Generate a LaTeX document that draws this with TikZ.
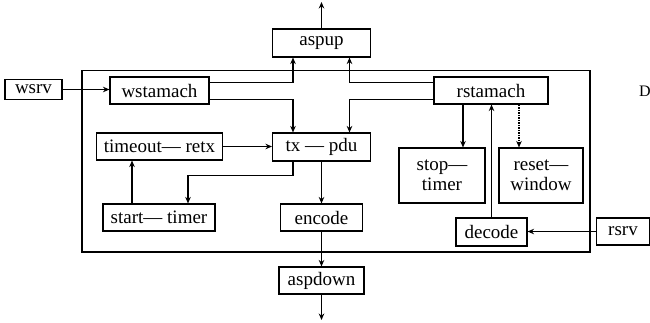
\documentclass[tikz,border=0pt]{standalone}
\usepackage{fontspec}
\setmainfont{Liberation Serif}
\usetikzlibrary{arrows.meta}
\begin{document}
\begin{tikzpicture}[x=1pt,y=-1pt,
  blk/.style={draw, line width=1.1pt, inner sep=0pt, align=center,
    font=\fontsize{19}{20}\selectfont},
  flow/.style={line width=1.1pt, -{Stealth[length=6.5pt,width=5.5pt]}},
  heavy/.style={flow, line width=1.6pt},
  dotflow/.style={flow, dash pattern=on 1.5pt off 1pt}]
\useasboundingbox (0,0) rectangle (650,322);

% enclosing frame of the protocol entity
\draw[line width=1.1pt] (82,70.5) rectangle (590,252);

% blocks
\node[blk, minimum width=57pt, minimum height=20pt] (wsrv) at (33.5,89.5) {wsrv};
\node[blk, minimum width=99pt, minimum height=27pt] (wstamach) at (159.5,90.5) {wstamach};
\node[blk, minimum width=98pt, minimum height=28pt] (aspup) at (321.5,43) {aspup};
\node[blk, minimum width=114pt, minimum height=27pt] (rstamach) at (491,90.5) {rstamach};
\node[blk, minimum width=126pt, minimum height=27pt] (timeout) at (159.5,146.5) {timeout— retx};
\node[blk, minimum width=98pt, minimum height=28pt] (txpdu) at (321.5,147) {tx — pdu};
\node[blk, minimum width=86pt, minimum height=55pt] (stoptimer) at (442,175.5) {stop—\\timer};
\node[blk, minimum width=84pt, minimum height=55pt] (resetwin) at (541,175.5) {reset—\\window};
\node[blk, minimum width=112pt, minimum height=27pt] (starttimer) at (159,217.5) {start— timer};
\node[blk, minimum width=82pt, minimum height=27pt] (encode) at (321.5,217.5) {encode};
\node[blk, minimum width=71pt, minimum height=28pt] (decode) at (491.5,232) {decode};
\node[blk, minimum width=53pt, minimum height=27pt] (rsrv) at (623,231.5) {rsrv};
\node[blk, minimum width=85pt, minimum height=27pt] (aspdown) at (321.5,280.5) {aspdown};
\node[font=\fontsize{16}{17}\selectfont, inner sep=0pt] (dlabel) at (645,91) {D};

% free ends of the outer arrows
\coordinate (outup) at (321.5,2);
\coordinate (outdown) at (321.5,320);

% attachment points on the state machines
\coordinate (ws1) at ([yshift=-6pt]wstamach.north east);
\coordinate (ws2) at ([yshift=5pt]wstamach.south east);
\coordinate (rs1) at ([yshift=-6pt]rstamach.north west);
\coordinate (rs2) at ([yshift=5pt]rstamach.south west);
\coordinate (ap1) at ([xshift=-28.5pt]aspup.south);
\coordinate (ap2) at ([xshift=28pt]aspup.south);
\coordinate (tp1) at ([xshift=-28.5pt]txpdu.north);
\coordinate (tp2) at ([xshift=28pt]txpdu.north);
\coordinate (tp3) at ([xshift=-28.5pt]txpdu.south);
\coordinate (st1) at ([xshift=29pt]starttimer.north);
\coordinate (st2) at ([xshift=-27pt]starttimer.north);
\coordinate (rb1) at ([xshift=-28pt]rstamach.south);
\coordinate (rb2) at ([xshift=28pt]rstamach.south);

% connectors
\draw[flow] (wsrv.east) -- (wsrv.east -| wstamach.west);
\draw[flow] (ws1) -| (ap1);
\draw[heavy] (ws2) -| (tp1);
\draw[flow] (rs1) -| (ap2);
\draw[heavy] (rs2) -| (tp2);
\draw[flow] (aspup.north) -- (outup);
\draw[flow] (timeout.east) -- (timeout.east -| txpdu.west);
\draw[flow] (tp3) -- ++(0,14) -| (st1);
\draw[flow] (st2) -- (st2 |- timeout.south);
\draw[flow] (txpdu.south) -- (encode.north);
\draw[heavy] (encode.south) -- (aspdown.north);
\draw[flow] (aspdown.south) -- (outdown);
\draw[flow] (rb1) -- (rb1 |- stoptimer.north);
\draw[dotflow] (rb2) -- (rb2 |- resetwin.north);
\draw[flow] (decode.north) -- (decode.north |- rstamach.south);
\draw[flow] (rsrv.west) -- (rsrv.west -| decode.east);
\end{tikzpicture}
\end{document}
